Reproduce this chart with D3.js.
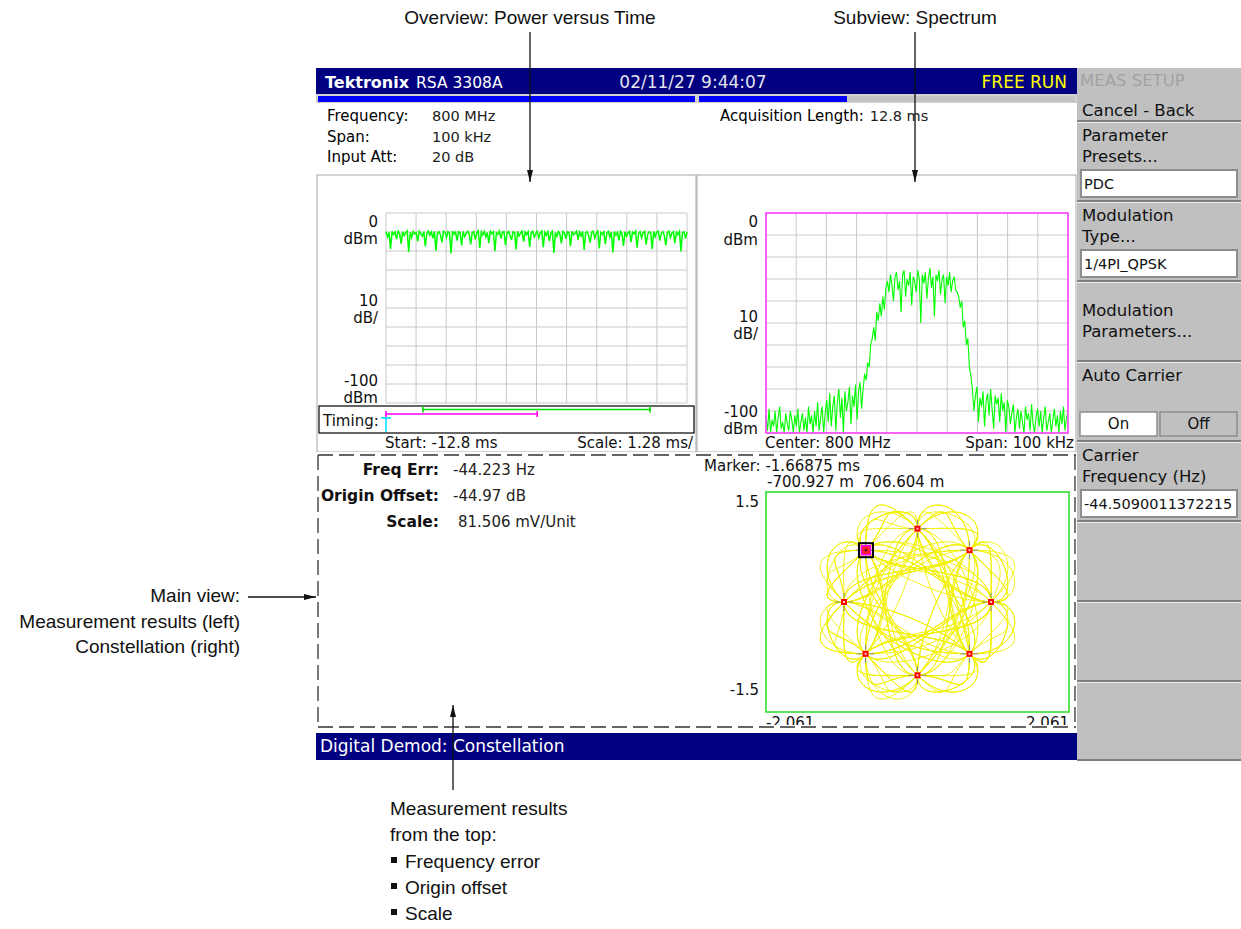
<!DOCTYPE html>
<html lang="en">
<head>
<meta charset="UTF-8">
<title>RSA 3308A Digital Demod display</title>
<script src="https://d3js.org/d3.v7.min.js"></script>
<style>
  body { margin: 0; background: #fff; }
  svg { display: block; }
</style>
</head>
<body>
<svg id="chart" width="1241" height="929"></svg>
<script>
// ---- values ----
var headerLabels = ["Frequency:", "Span:", "Input Att:"];
var headerValues = ["800 MHz", "100 kHz", "20 dB"];
var acqLength = "12.8 ms";
var dateText = "02/11/27 9:44:07";

// overview: power vs time (dBm), start -12.8 ms, 1.28 ms/div
var pvtStartMs = -12.8, pvtScaleMs = 1.28;
var pvtPower = [
  -9.8,-12.5,-10.2,-18.9,-9.6,-11.4,-10.0,-13.7,-9.5,-10.8,-16.2,-9.9,-11.9,-10.3,-9.4,-20.5,-10.1,-12.8,-9.7,-11.1,
  -10.4,-14.9,-9.6,-10.9,-12.2,-9.8,-17.6,-10.5,-9.5,-11.7,-10.0,-13.3,-9.7,-19.8,-10.6,-9.9,-11.5,-15.4,-9.6,-10.2,
  -12.9,-9.8,-10.7,-21.3,-9.5,-11.2,-10.1,-14.6,-9.9,-10.4,-17.1,-9.7,-12.4,-10.8,-9.6,-11.0,-16.5,-10.2,-9.8,-13.9,
  -10.5,-9.4,-18.4,-10.0,-11.6,-9.7,-12.7,-10.3,-15.8,-9.6,-10.9,-9.9,-20.1,-10.4,-11.3,-9.5,-13.5,-10.1,-9.8,-16.9,
  -10.6,-9.7,-11.8,-14.2,-9.9,-10.3,-19.2,-9.6,-12.1,-10.7,-9.5,-15.1,-10.0,-11.4,-9.8,-17.8,-10.2,-9.6,-12.6,-10.9,
  -9.7,-13.1,-10.4,-9.5,-18.0,-10.1,-11.7,-9.9,-14.8,-10.6,-9.6,-21.0,-10.3,-12.3,-9.8,-11.1,-16.0,-9.7,-10.5,-13.6,
  -9.9,-10.2,-17.4,-9.6,-11.5,-10.8,-9.5,-14.0,-10.0,-12.0,-9.7,-19.5,-10.4,-9.8,-11.9,-15.6,-10.1,-9.6,-13.2,-10.7,
  -9.5,-18.6,-10.3,-11.2,-9.9,-16.4,-10.6,-9.7,-12.8,-10.0,-20.8,-9.8,-11.6,-10.2,-14.4,-9.6,-10.9,-17.3,-9.9,-12.2,
  -10.5,-9.7,-15.3,-10.1,-11.0,-9.5,-18.2,-10.8,-9.8,-13.0,-10.3,-9.6,-16.7,-11.3,-9.9,-10.4,-19.0,-9.7,-12.5,-10.0,
  -9.6,-14.5,-10.7,-9.8,-11.8,-17.0,-10.2,-9.5,-12.9,-10.6,-9.9,-15.9,-10.1,-11.4,-9.7,-20.2,-10.3,-9.8,-13.4,-10.0
];
// timing bars (ms)
var timingGreen = [-11.23, -1.57];
var timingMagenta = [-12.8, -6.37];
var timingCyan = -12.8;

// subview: spectrum (dBm), center 800 MHz, span 100 kHz
var specSpanKHz = [-50, 50];
var specPower = [
  -92,-99,-89,-100,-94,-97,-90,-100,-93,-88,-98,-95,-100,-91,-96,-99,-90,-94,-100,-92,
  -97,-89,-100,-95,-91,-99,-93,-100,-88,-96,-92,-100,-90,-97,-86,-99,-93,-88,-100,-91,
  -85,-95,-82,-97,-88,-83,-99,-86,-80,-93,-84,-100,-81,-90,-86,-79,-96,-83,-88,-78,-94,-81,-77,-89,
  -80,-73,-76,-68,-70,-60,-57,-52,-58,-45,-49,-41,-47,-38,-44,-34,
  -31,-36,-28,-33,-40,-29,-27,-35,-31,-45,-28,-26,-38,-30,-33,-27,-42,-29,-31,-36,
  -26,-30,-50,-28,-32,-27,-39,-30,-25,-34,-29,-47,-28,-31,-26,-37,-30,-28,-41,-29,
  -33,-27,-36,-31,-29,-35,
  -36,-38,-43,-40,-52,-49,-60,-57,-70,-74,
  -80,-90,-83,-79,-95,-84,-88,-81,-97,-86,-82,-92,-80,-89,-98,-83,-87,-84,-95,-82,-90,-86,-100,-85,
  -88,-96,-91,-87,-100,-93,-89,-98,-90,-95,-100,-88,-94,-91,-99,-87,-96,-100,-92,-89,
  -97,-90,-100,-93,-88,-99,-95,-91,-100,-94,-89,-97,-92,-100,-90,-96,-88,-99,-93,-90
];

// main view: measurement results
var measLabels = ["Freq Err:", "Origin Offset:", "Scale:"];
var measValues = ["-44.223 Hz", "-44.97 dB", "81.506 mV/Unit"];

// constellation (pi/4 QPSK), axes +-2.061 x +-1.5
var constX = [-2.061, 2.061];
var constY = [-1.5, 1.5];
var idealI = [1, 0.707, 0, -0.707, -1, -0.707, 0, 0.707];
var idealQ = [0, 0.707, 1, 0.707, 0, -0.707, -1, -0.707];
var symbolSeq = [0,1,4,3,6,1,2,7,0,5,4,1,2,3,6,5,0,3,2,5,6,7,2,1,4,7,6,3,4,5,0,7,2,5,4,3,0,1,6,7,
  4,5,2,3,0,5,6,1,2,7,4,3,6,1,0,7,2,3,4,1,6,5,0,3,2,1,4,5,6,3,0,7,6,5,2,1,0,3,4,7,2,5,6,1,4,3,2,7,0,1,
  2,5,4,7,6,1,0,3,6,5,2,3,0,7,4,5,0,1,6,3,4,7,0,5,2,1,4,5,6,3,2,7,6,5,4,1,0,5,6,7,2,3,6,1,4,5,0,7,4,3,
  2,7,2,3,0,1,4,7,6,3,0,5,6,7,4,1,2,5,0,3,4,5,2,7,0,1,6,5,4,7,2,1,0,3,6,7,0,5,2,3,4,1,6];
var markerTime = "-1.66875 ms";
var markerIQ = [-0.700927, 0.706604];

// side menu
var menuButtons = [
  { lines: ["Parameter", "Presets..."], field: "PDC" },
  { lines: ["Modulation", "Type..."], field: "1/4PI_QPSK" },
  { lines: ["Modulation", "Parameters..."], centered: true },
  { lines: ["Auto Carrier"], toggle: ["On", "Off"] },
  { lines: ["Carrier", "Frequency (Hz)"], field: "-44.5090011372215" },
  { lines: [] }, { lines: [] }, { lines: [] }
];

// ---- drawing ----
var SF = "'DejaVu Sans', Verdana, sans-serif";
var NF = "'Liberation Sans', Arial, sans-serif";
var svg = d3.select("#chart");

var defs = svg.append("defs");
defs.append("marker").attr("id", "arrow")
  .attr("viewBox", "0 0 12 6").attr("refX", 12).attr("refY", 3)
  .attr("markerWidth", 12).attr("markerHeight", 6).attr("markerUnits", "userSpaceOnUse")
  .attr("orient", "auto")
  .append("path").attr("d", "M0,0 L12,3 L0,6 z").attr("fill", "#111");
defs.append("clipPath").attr("id", "cutLabels")
  .append("rect").attr("x", 700).attr("y", 700).attr("width", 380).attr("height", 25);

svg.append("rect").attr("width", 1241).attr("height", 929).attr("fill", "#fff");

function txt(x, y, s, size, opts) {
  opts = opts || {};
  return svg.append("text").attr("x", x).attr("y", y)
    .attr("text-anchor", opts.anchor || "start").attr("fill", opts.fill || "#111")
    .style("font-family", SF).style("font-size", size + "px")
    .style("font-weight", opts.bold ? "bold" : "normal").text(s);
}

// title bar
svg.append("rect").attr("x", 316).attr("y", 68).attr("width", 761).attr("height", 26).attr("fill", "#000080");
svg.append("text").attr("x", 325).attr("y", 88).attr("fill", "#fff")
  .style("font-family", SF).style("font-size", "16px")
  .call(function(t) {
    t.append("tspan").style("font-weight", "bold").text("Tektronix");
    t.append("tspan").attr("dx", 7).style("font-size", "15.5px").text("RSA 3308A");
  });
txt(693, 88, dateText, 17, { anchor: "middle", fill: "#e4e4ee" });
txt(1067, 88, "FREE RUN", 17, { anchor: "end", fill: "#ffff00" });

// progress strip
svg.append("rect").attr("x", 316).attr("y", 94).attr("width", 761).attr("height", 9).attr("fill", "#d0d0d0");
svg.append("rect").attr("x", 318).attr("y", 96).attr("width", 377).attr("height", 6).attr("fill", "#0000ff");
svg.append("rect").attr("x", 699).attr("y", 96).attr("width", 376).attr("height", 6).attr("fill", "#c4c4c4");
svg.append("rect").attr("x", 699).attr("y", 96).attr("width", 148).attr("height", 6).attr("fill", "#0000ff");

// header fields
headerLabels.forEach(function(l, i) {
  txt(327, 121 + i * 20.5, l, 15, { fill: "#000" });
  txt(432, 121 + i * 20.5, headerValues[i], 14.5, { fill: "#222" });
});
svg.append("text").attr("x", 720).attr("y", 121).attr("fill", "#000")
  .style("font-family", SF).style("font-size", "15px")
  .call(function(t) {
    t.append("tspan").text("Acquisition Length:");
    t.append("tspan").attr("dx", 6).attr("fill", "#222").style("font-size", "14.5px").text(acqLength);
  });

// panel frames
svg.append("rect").attr("x", 317).attr("y", 175).attr("width", 379).attr("height", 277)
  .attr("fill", "none").attr("stroke", "#a8a8a8");
svg.append("rect").attr("x", 697).attr("y", 175).attr("width", 379).attr("height", 277)
  .attr("fill", "none").attr("stroke", "#a8a8a8");

function grid(g, x0, x1, y0, y1) {
  var xs = d3.scaleLinear().domain([0, 10]).range([x0, x1]);
  var ys = d3.scaleLinear().domain([0, 10]).range([y0, y1]);
  g.selectAll("line.v").data(d3.range(11)).enter().append("line")
    .attr("x1", function(d) { return xs(d); }).attr("x2", function(d) { return xs(d); })
    .attr("y1", y0).attr("y2", y1).attr("stroke", "#c8c8c8");
  g.selectAll("line.h").data(d3.range(11)).enter().append("line")
    .attr("y1", function(d) { return ys(d); }).attr("y2", function(d) { return ys(d); })
    .attr("x1", x0).attr("x2", x1).attr("stroke", "#c8c8c8");
}

function yLabels(x, rows) {
  rows.forEach(function(r) { txt(x, r[1], r[0], 15, { anchor: "end" }); });
}

// ---- overview: power vs time ----
var pvtT = d3.scaleLinear().domain([pvtStartMs, pvtStartMs + 10 * pvtScaleMs]).range([386, 687]);
var pvtI = d3.scaleLinear().domain([0, pvtPower.length - 1]).range([386, 687]);
var pvtY = d3.scaleLinear().domain([-100, 0]).range([403, 213]);
grid(svg.append("g"), 386, 687, 213, 403);
svg.append("path").datum(pvtPower)
  .attr("d", d3.line().x(function(d, i) { return pvtI(i); }).y(function(d) { return pvtY(d); }))
  .attr("fill", "none").attr("stroke", "#00ff00").attr("stroke-width", 1.5);
yLabels(378, [["0", 227], ["dBm", 244], ["10", 306], ["dB/", 323], ["-100", 386], ["dBm", 403]]);

// timing box
svg.append("rect").attr("x", 319).attr("y", 406).attr("width", 375).attr("height", 27)
  .attr("fill", "#fff").attr("stroke", "#000").attr("stroke-width", 1.2);
txt(323, 426, "Timing:", 15);
[[timingGreen, 409.5, "#00e000"], [timingMagenta, 414, "#ff00ff"]].forEach(function(b) {
  var g = svg.append("g").attr("stroke", b[2]).attr("stroke-width", 1.6);
  g.append("line").attr("x1", pvtT(b[0][0])).attr("x2", pvtT(b[0][1])).attr("y1", b[1]).attr("y2", b[1]);
  b[0].forEach(function(t) {
    g.append("line").attr("x1", pvtT(t)).attr("x2", pvtT(t)).attr("y1", b[1] - 3).attr("y2", b[1] + 3);
  });
});
var cg = svg.append("g").attr("stroke", "#00e0ff").attr("stroke-width", 1.6);
cg.append("line").attr("x1", pvtT(timingCyan) - 5).attr("x2", pvtT(timingCyan) + 5).attr("y1", 418).attr("y2", 418);
cg.append("line").attr("x1", pvtT(timingCyan)).attr("x2", pvtT(timingCyan)).attr("y1", 418).attr("y2", 432);

txt(385, 448, "Start: " + pvtStartMs + " ms", 15);
txt(693, 448, "Scale: " + pvtScaleMs + " ms/", 15, { anchor: "end" });

// ---- subview: spectrum ----
var specF = d3.scaleLinear().domain([0, specPower.length - 1]).range(specSpanKHz);
var specX = d3.scaleLinear().domain(specSpanKHz).range([766, 1068]);
var specY = d3.scaleLinear().domain([-100, 0]).range([433, 213]);
grid(svg.append("g"), 766, 1068, 213, 433);
svg.append("path").datum(specPower)
  .attr("d", d3.line().x(function(d, i) { return specX(specF(i)); }).y(function(d) { return specY(d); }))
  .attr("fill", "none").attr("stroke", "#00ff00").attr("stroke-width", 1.1);
svg.append("rect").attr("x", 766).attr("y", 213).attr("width", 302).attr("height", 220)
  .attr("fill", "none").attr("stroke", "#ff40ff").attr("stroke-width", 1.6);
yLabels(758, [["0", 227], ["dBm", 245], ["10", 322], ["dB/", 339], ["-100", 417], ["dBm", 434]]);
txt(765, 448, "Center: 800 MHz", 15);
txt(1074, 448, "Span: 100 kHz", 15, { anchor: "end" });

// ---- main view ----
svg.append("rect").attr("x", 316).attr("y", 452).attr("width", 760).attr("height", 278).attr("fill", "#fff");
measLabels.forEach(function(l, i) {
  txt(439, 475 + i * 26, l, 15.5, { anchor: "end", bold: true });
  txt(i === 2 ? 458 : 453, 475 + i * 26, measValues[i], 15, { fill: "#222" });
});
txt(704, 471, "Marker: " + markerTime, 15);
svg.append("text").attr("x", 767).attr("y", 487).attr("fill", "#111")
  .style("font-family", SF).style("font-size", "15px")
  .call(function(t) {
    t.append("tspan").text((markerIQ[0] * 1000).toFixed(3) + " m");
    t.append("tspan").attr("dx", 9).text((markerIQ[1] * 1000).toFixed(3) + " m");
  });

// constellation
var cx = d3.scaleLinear().domain(constX).range([766, 1069]);
var cy = d3.scaleLinear().domain(constY).range([712, 492]);
svg.append("rect").attr("x", 766).attr("y", 492).attr("width", 303).attr("height", 220)
  .attr("fill", "#fff").attr("stroke", "#30e030").attr("stroke-width", 1.6);
svg.append("path").datum(symbolSeq)
  .attr("d", d3.line().curve(d3.curveCardinal.tension(-1.15))
    .x(function(s) { return cx(idealI[s]); }).y(function(s) { return cy(idealQ[s]); }))
  .attr("fill", "none").attr("stroke", "#f0f000").attr("stroke-width", 0.9);
var pts = svg.append("g").selectAll("g").data(d3.range(idealI.length)).enter().append("g")
  .attr("transform", function(k) { return "translate(" + cx(idealI[k]) + "," + cy(idealQ[k]) + ")"; });
[[4, 0, 9, 0], [-4, 0, -9, 0], [0, 4, 0, 9], [0, -4, 0, -9]].forEach(function(a) {
  pts.append("line").attr("x1", a[0]).attr("y1", a[1]).attr("x2", a[2]).attr("y2", a[3])
    .attr("stroke", "#888").attr("stroke-width", 1);
});
pts.append("rect").attr("x", -3).attr("y", -3).attr("width", 6).attr("height", 6).attr("fill", "#ff0000");
pts.append("rect").attr("x", -1).attr("y", -1).attr("width", 2).attr("height", 2).attr("fill", "#ffc0c0");
var mk = svg.append("g").attr("transform", "translate(" + cx(markerIQ[0]) + "," + cy(markerIQ[1]) + ")");
mk.append("rect").attr("x", -7).attr("y", -7).attr("width", 14).attr("height", 14)
  .attr("fill", "none").attr("stroke", "#000").attr("stroke-width", 2);
mk.append("rect").attr("x", -4.5).attr("y", -4.5).attr("width", 9).attr("height", 9)
  .attr("fill", "#ff2020").attr("stroke", "#ff00ff").attr("stroke-width", 1.6);
mk.append("rect").attr("x", -1).attr("y", -1).attr("width", 2).attr("height", 2).attr("fill", "#400040");

txt(759, 507, constY[1], 15, { anchor: "end" });
txt(759, 695, constY[0], 15, { anchor: "end" });
var cut = svg.append("g").attr("clip-path", "url(#cutLabels)");
cut.append("text").attr("x", 766).attr("y", 728).attr("fill", "#111")
  .style("font-family", SF).style("font-size", "15px").text(constX[0]);
cut.append("text").attr("x", 1069).attr("y", 728).attr("text-anchor", "end").attr("fill", "#111")
  .style("font-family", SF).style("font-size", "15px").text(constX[1]);

// dashed frame of main view
var dash = svg.append("g").attr("stroke", "#333").attr("stroke-width", 1.3)
  .attr("stroke-dasharray", "15,6").attr("fill", "none");
dash.append("line").attr("x1", 318).attr("x2", 1076).attr("y1", 455).attr("y2", 455);
dash.append("line").attr("x1", 318).attr("x2", 1076).attr("y1", 727).attr("y2", 727);
dash.append("line").attr("x1", 318).attr("x2", 318).attr("y1", 455).attr("y2", 727);
dash.append("line").attr("x1", 1075).attr("x2", 1075).attr("y1", 455).attr("y2", 727);

// status bar
svg.append("rect").attr("x", 316).attr("y", 733).attr("width", 761).attr("height", 27).attr("fill", "#000080");
txt(320, 752, "Digital Demod: Constellation", 17, { fill: "#fff" });

// ---- side menu ----
var menuX = 1077, menuW = 164;
svg.append("rect").attr("x", menuX).attr("y", 68).attr("width", menuW).attr("height", 692).attr("fill", "#c0c0c0");
txt(1080, 86, "MEAS SETUP", 16.5, { fill: "#a2a2a2" });
txt(1082, 116, "Cancel - Back", 16.5);
menuButtons.forEach(function(b, k) {
  var top = 121 + 80 * k;
  svg.append("line").attr("x1", menuX).attr("x2", menuX + menuW).attr("y1", top).attr("y2", top)
    .attr("stroke", "#808080").attr("stroke-width", 2);
  svg.append("line").attr("x1", menuX).attr("x2", menuX + menuW).attr("y1", top + 1.5).attr("y2", top + 1.5)
    .attr("stroke", "#f0f0f0").attr("stroke-width", 1);
  b.lines.forEach(function(l, j) {
    txt(1082, top + (b.centered ? 35 : 20) + j * 21, l, 16.5);
  });
  if (b.field) {
    svg.append("rect").attr("x", 1081).attr("y", top + 49).attr("width", 156).attr("height", 27)
      .attr("fill", "#fff").attr("stroke", "#8c8c8c").attr("stroke-width", 2);
    txt(1084, top + 68, b.field, 14.5);
  }
  if (b.toggle) {
    b.toggle.forEach(function(t, j) {
      var x = 1080 + j * 80;
      svg.append("rect").attr("x", x).attr("y", top + 51).attr("width", 77).attr("height", 24)
        .attr("fill", j === 0 ? "#fff" : "#c0c0c0").attr("stroke", "#8c8c8c").attr("stroke-width", 1.5);
      txt(x + 38.5, top + 68, t, 15, { anchor: "middle" });
    });
  }
});
svg.append("line").attr("x1", menuX).attr("x2", menuX + menuW).attr("y1", 760).attr("y2", 760)
  .attr("stroke", "#808080").attr("stroke-width", 2);

// ---- callouts ----
function note(x, y, anchor, s) {
  svg.append("text").attr("x", x).attr("y", y).attr("text-anchor", anchor).attr("fill", "#111")
    .style("font-family", NF).style("font-size", "19px").text(s);
}
function arrow(x1, y1, x2, y2) {
  svg.append("line").attr("x1", x1).attr("y1", y1).attr("x2", x2).attr("y2", y2)
    .attr("stroke", "#111").attr("stroke-width", 1.3).attr("marker-end", "url(#arrow)");
}
note(530, 24, "middle", "Overview: Power versus Time");
arrow(530, 32, 530, 182);
note(915, 24, "middle", "Subview: Spectrum");
arrow(915, 32, 915, 182);
note(240, 602, "end", "Main view:");
note(240, 628, "end", "Measurement results (left)");
note(240, 653, "end", "Constellation (right)");
arrow(248, 597, 316, 597);
arrow(453, 790, 453, 705);
note(390, 815, "start", "Measurement results");
note(390, 841, "start", "from the top:");
["Frequency error", "Origin offset", "Scale"].forEach(function(s, i) {
  var y = 868 + i * 26;
  svg.append("rect").attr("x", 391).attr("y", y - 11).attr("width", 6).attr("height", 6).attr("fill", "#111");
  note(405, y, "start", s);
});
</script>
</body>
</html>
